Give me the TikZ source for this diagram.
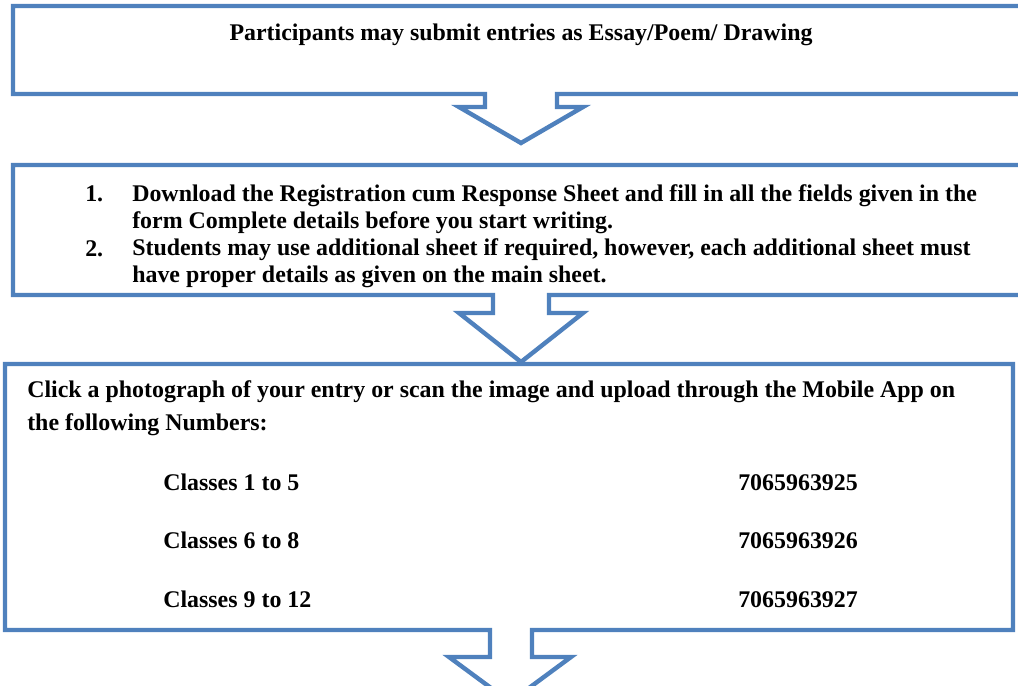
\documentclass[tikz,border=0pt]{standalone}
\usepackage{fontspec}
\setmainfont{Liberation Serif}
\definecolor{calloutblue}{RGB}{79,129,189}

\begin{document}
\begin{tikzpicture}[
		x=0.025cm, y=-0.025cm,
		every node/.style={inner sep=0pt, font=\fontsize{17}{19.2}\selectfont\bfseries},
		callout/.style={draw=calloutblue, line width=0.11cm, line join=miter, fill=white},
		txt/.style={anchor=base west, align=left}
		]
		\useasboundingbox (0,0) rectangle (1018,685);
		% Callout boxes with down arrows
		\draw[callout] (13,6) -- (1040,6) -- (1040,94) -- (557,94) -- (557,107) -- (583,107) -- (521,143) -- (459,107) -- (485,107) -- (485,94) -- (13,94) -- cycle;
		\draw[callout] (13,165) -- (1040,165) -- (1040,295) -- (549,295) -- (549,313) -- (583,313) -- (521,362) -- (459,313) -- (493,313) -- (493,295) -- (13,295) -- cycle;
		\draw[callout] (5,364) -- (1013,364) -- (1013,630) -- (532,630) -- (532,657) -- (571,657) -- (510,702) -- (449,657) -- (490,657) -- (490,630) -- (5,630) -- cycle;
		
		% First step
		\node[anchor=base] at (521,40) (entries) {Participants may submit entries as Essay/Poem/ Drawing};
		
		% Second step (base = last line)
		\node[txt] at (85,201) (num1) {1.};
		\node[txt] at (85,256) (num2) {2.};
		\node[txt] at (132,282) (steps) {Download the Registration cum Response Sheet and fill in all the fields given in the\\form Complete details before you start writing.\\Students may use additional sheet if required, however, each additional sheet must\\have proper details as given on the main sheet.};
		
		% Third step
		\node[txt, font=\fontsize{17}{22.8}\selectfont\bfseries] at (27,430) (upload) {Click a photograph of your entry or scan the image and upload through the Mobile App on\\the following Numbers:};
		\node[txt] at (163,490) (classA) {Classes 1 to 5};
		\node[txt] at (738,490) (phoneA) {7065963925};
		\node[txt] at (163,548) (classB) {Classes 6 to 8};
		\node[txt] at (738,548) (phoneB) {7065963926};
		\node[txt] at (163,607) (classC) {Classes 9 to 12};
		\node[txt] at (738,607) (phoneC) {7065963927};
	\end{tikzpicture}
\end{document}
